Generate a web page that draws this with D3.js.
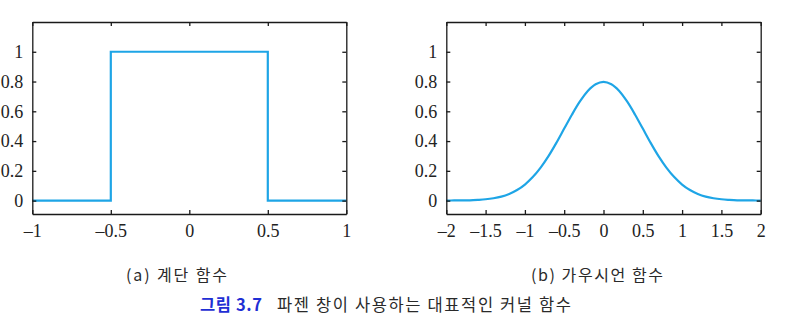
<!DOCTYPE html>
<html>
<head>
<meta charset="utf-8">
<script src="https://cdn.jsdelivr.net/npm/d3@7"></script>
<style>
  html, body { margin: 0; padding: 0; background: #fff; }
  svg { display: block; }
</style>
</head>
<body>
<svg id="chart" width="806" height="323"></svg>
<script>
// ---- data ----
const stepX = [-1, -0.5, -0.5, 0.5, 0.5, 1];
const stepY = [0, 0, 1, 1, 0, 0];

const gaussX = [-2.0,-1.9,-1.8,-1.7,-1.6,-1.5,-1.4,-1.3,-1.2,-1.1,-1.0,-0.9,-0.8,-0.7,-0.6,-0.5,-0.4,-0.3,-0.2,-0.1,
                0.0,0.1,0.2,0.3,0.4,0.5,0.6,0.7,0.8,0.9,1.0,1.1,1.2,1.3,1.4,1.5,1.6,1.7,1.8,1.9,2.0];
const gaussY = [0.000,0.001,0.001,0.002,0.005,0.009,0.016,0.027,0.045,0.071,0.108,0.158,0.222,0.299,0.388,0.484,0.579,0.666,0.737,0.782,
                0.798,0.782,0.737,0.666,0.579,0.484,0.388,0.299,0.222,0.158,0.108,0.071,0.045,0.027,0.016,0.009,0.005,0.002,0.001,0.001,0.000];

const yTicks = [0, 0.2, 0.4, 0.6, 0.8, 1];
const yTickLabels = ["0", "0.2", "0.4", "0.6", "0.8", "1"];
const xTicksA = [-1, -0.5, 0, 0.5, 1];
const xTickLabelsA = ["–1", "–0.5", "0", "0.5", "1"];
const xTicksB = [-2, -1.5, -1, -0.5, 0, 0.5, 1, 1.5, 2];
const xTickLabelsB = ["–2", "–1.5", "–1", "–0.5", "0", "0.5", "1", "1.5", "2"];
const yDomain = [-0.09, 1.2];

const captionA = "(a) 계단 함수";
const captionB = "(b) 가우시언 함수";
const figLabel = "그림 3.7";
const figTitle = "파젠 창이 사용하는 대표적인 커널 함수";

// ---- drawing ----
const svg = d3.select("#chart");
const lineColor = "#1ea5e6";
const plotTop = 22, plotBottom = 214;
const tickLen = 4;

function panel(left, right, xDomain, xTicks, xLabels, xs, ys, curve) {
  const x = d3.scaleLinear().domain(xDomain).range([left, right]);
  const y = d3.scaleLinear().domain(yDomain).range([plotBottom, plotTop]);
  const g = svg.append("g");

  const line = d3.line().x(d => x(d[0])).y(d => y(d[1])).curve(curve);
  g.append("path")
    .datum(xs.map((v, i) => [v, ys[i]]))
    .attr("d", line)
    .attr("fill", "none")
    .attr("stroke", lineColor)
    .attr("stroke-width", 2.2)
    .attr("stroke-linejoin", "miter");

  const fmtX = (d, i) => xLabels[i];
  const fmtY = (d, i) => yTickLabels[i];
  const axB = g.append("g").attr("transform", `translate(0,${plotBottom})`)
    .call(d3.axisBottom(x).tickValues(xTicks).tickFormat(fmtX).tickSizeInner(-tickLen).tickSizeOuter(0).tickPadding(10));
  const axT = g.append("g").attr("transform", `translate(0,${plotTop})`)
    .call(d3.axisTop(x).tickValues(xTicks).tickFormat(() => "").tickSizeInner(-tickLen).tickSizeOuter(0));
  const axL = g.append("g").attr("transform", `translate(${left},0)`)
    .call(d3.axisLeft(y).tickValues(yTicks).tickFormat(fmtY).tickSizeInner(-tickLen).tickSizeOuter(0).tickPadding(9));
  const axR = g.append("g").attr("transform", `translate(${right},0)`)
    .call(d3.axisRight(y).tickValues(yTicks).tickFormat(() => "").tickSizeInner(-tickLen).tickSizeOuter(0));

  [axB, axT, axL, axR].forEach(a => {
    a.select(".domain").attr("stroke", "#1a1a1a").attr("stroke-width", 1.3);
    a.selectAll(".tick line").attr("stroke", "#1a1a1a").attr("stroke-width", 1.3);
    a.selectAll("text")
      .attr("font-family", "'Liberation Serif', 'DejaVu Serif', serif")
      .attr("font-size", 18)
      .attr("fill", "#222");
  });
  axB.selectAll(".tick text").attr("dy", "0.71em");
}

panel(32.3, 346.3, [-1, 1], xTicksA, xTickLabelsA, stepX, stepY, d3.curveLinear);
panel(446.3, 760.7, [-2, 2], xTicksB, xTickLabelsB, gaussX, gaussY, d3.curveCatmullRom);

const sans = "'Noto Sans CJK KR', 'Noto Sans', sans-serif";
function caption(txt, x, y, len, size, color, weight) {
  svg.append("text").attr("x", x).attr("y", y)
    .attr("font-family", sans).attr("font-size", size)
    .attr("font-weight", weight || "normal").attr("fill", color)
    .attr("textLength", len).attr("lengthAdjust", "spacing")
    .text(txt);
}
caption(captionA, 126, 281, 101, 16, "#2a2a2a");
caption(captionB, 531, 281, 132, 16, "#2a2a2a");
caption(figLabel, 200, 311, 62, 16.5, "#1f2fd4", "bold");
caption(figTitle, 277, 311, 294, 16.5, "#2a2a2a");
</script>
</body>
</html>
